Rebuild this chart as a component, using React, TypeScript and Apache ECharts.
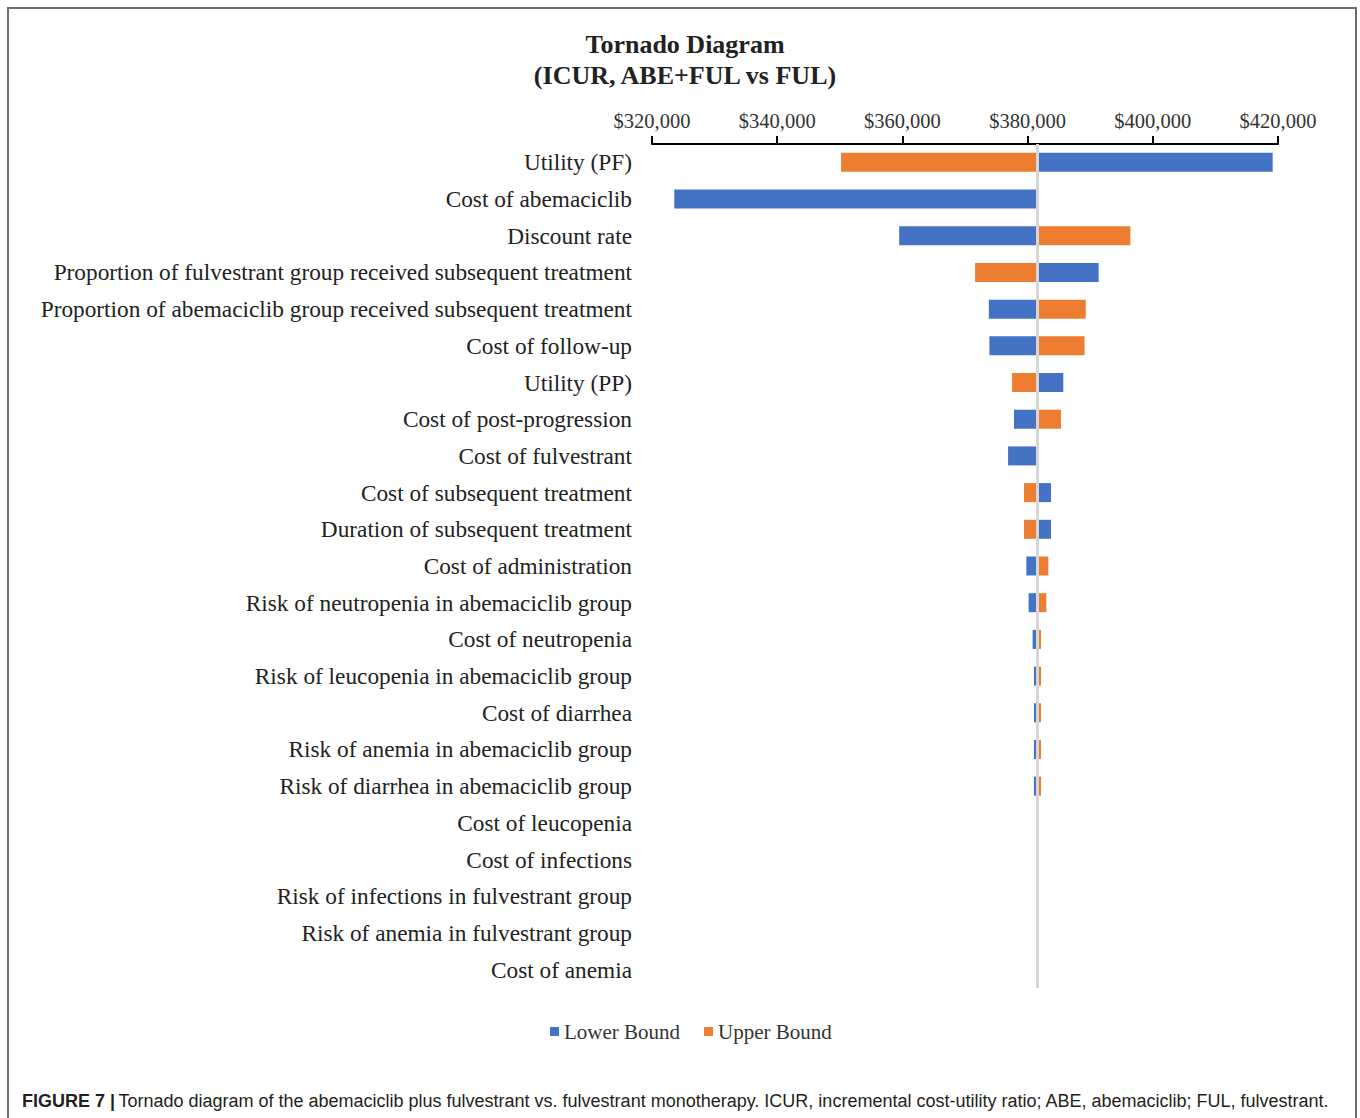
import React, { useEffect, useRef } from "react";
import * as echarts from "echarts";

const categories = [
  "Utility (PF)",
  "Cost of abemaciclib",
  "Discount rate",
  "Proportion of fulvestrant group received subsequent treatment",
  "Proportion of abemaciclib group received subsequent treatment",
  "Cost of follow-up",
  "Utility (PP)",
  "Cost of post-progression",
  "Cost of fulvestrant",
  "Cost of subsequent treatment",
  "Duration of subsequent treatment",
  "Cost of administration",
  "Risk of neutropenia in abemaciclib group",
  "Cost of neutropenia",
  "Risk of leucopenia in abemaciclib group",
  "Cost of diarrhea",
  "Risk of anemia in abemaciclib group",
  "Risk of diarrhea in abemaciclib group",
  "Cost of leucopenia",
  "Cost of infections",
  "Risk of infections in fulvestrant group",
  "Risk of anemia in fulvestrant group",
  "Cost of anemia",
];

const BASE_ICUR = 381600;

const lowerBound = [
  419150, 323560, 359490, 391350, 373810, 373900, 385700, 377830, 376880,
  383740, 383740, 379800, 380160, 380800, 381020, 381020, 381020, 381020,
  381600, 381600, 381600, 381600, 381600,
];

const upperBound = [
  350200, 381600, 396420, 371610, 389290, 389100, 377520, 385330, 381600,
  379430, 379430, 383310, 382990, 382140, 382140, 382140, 382140, 382140,
  381600, 381600, 381600, 381600, 381600,
];

const xTicks = { min: 320000, max: 420000, interval: 20000 };

const BLUE = "#4472C4";
const ORANGE = "#ED7D31";
const SERIF = "'Liberation Serif', 'Times New Roman', serif";
const SANS = "'Liberation Sans', Arial, sans-serif";

export default function App() {
  const ref = useRef<HTMLDivElement>(null);

  useEffect(() => {
    if (!ref.current) return;
    const chart = echarts.init(ref.current, null, { renderer: "svg" });

    const lowStart = lowerBound.map((v) => Math.min(v, BASE_ICUR));
    const lowLen = lowerBound.map((v) => Math.abs(v - BASE_ICUR));
    const upStart = upperBound.map((v) => Math.min(v, BASE_ICUR));
    const upLen = upperBound.map((v) => Math.abs(v - BASE_ICUR));

    chart.setOption({
      animation: false,
      backgroundColor: "#ffffff",
      grid: { left: 652, right: 1360 - 1278, top: 144, bottom: 1118 - 988 },
      xAxis: {
        type: "value",
        position: "top",
        min: xTicks.min,
        max: xTicks.max,
        interval: xTicks.interval,
        axisLine: { show: true, lineStyle: { color: "#000", width: 2 } },
        axisTick: { show: true, length: 8, lineStyle: { color: "#000", width: 2 } },
        splitLine: { show: false },
        axisLabel: {
          margin: 13,
          fontFamily: SERIF,
          fontSize: 20.5,
          color: "#333",
          formatter: (v: number) => "$" + v.toLocaleString("en-US"),
        },
      },
      yAxis: {
        type: "category",
        inverse: true,
        data: categories,
        axisLine: { show: false },
        axisTick: { show: false },
        axisLabel: {
          margin: 20,
          fontFamily: SERIF,
          fontSize: 23.3,
          color: "#222",
        },
      },
      legend: {
        data: ["Lower Bound", "Upper Bound"],
        left: 545,
        top: 1016,
        icon: "rect",
        itemWidth: 9,
        itemHeight: 9,
        itemGap: 24,
        textStyle: { fontFamily: SERIF, fontSize: 21, color: "#333" },
      },
      series: [
        {
          name: "lowBase",
          type: "bar",
          stack: "low",
          barWidth: 19,
          barGap: "-100%",
          data: lowStart,
          itemStyle: { color: "transparent" },
          silent: true,
          markLine: {
            silent: true,
            symbol: "none",
            label: { show: false },
            lineStyle: { color: "#d6d6d6", width: 3, type: "solid" },
            data: [{ xAxis: BASE_ICUR }],
            z: 10,
          },
        },
        {
          name: "Lower Bound",
          type: "bar",
          stack: "low",
          barWidth: 19,
          barGap: "-100%",
          data: lowLen,
          itemStyle: { color: BLUE },
        },
        {
          name: "upBase",
          type: "bar",
          stack: "up",
          barWidth: 19,
          barGap: "-100%",
          data: upStart,
          itemStyle: { color: "transparent" },
          silent: true,
        },
        {
          name: "Upper Bound",
          type: "bar",
          stack: "up",
          barWidth: 19,
          barGap: "-100%",
          data: upLen,
          itemStyle: { color: ORANGE },
        },
      ],
      graphic: [
        {
          type: "rect",
          shape: { x: 8, y: 8, width: 1348, height: 1140 },
          style: { fill: "none", stroke: "#6e6e6e", lineWidth: 2 },
          silent: true,
        },
        {
          type: "text",
          x: 685,
          y: 44,
          style: {
            text: "Tornado Diagram",
            fontFamily: SERIF,
            fontWeight: "bold",
            fontSize: 26,
            fill: "#222",
            align: "center",
            verticalAlign: "middle",
          },
        },
        {
          type: "text",
          x: 685,
          y: 75,
          style: {
            text: "(ICUR, ABE+FUL vs FUL)",
            fontFamily: SERIF,
            fontWeight: "bold",
            fontSize: 26,
            fill: "#222",
            align: "center",
            verticalAlign: "middle",
          },
        },
        {
          type: "text",
          x: 22,
          y: 1101,
          style: {
            text:
              "{b|FIGURE 7 |} {r|Tornado diagram of the abemaciclib plus fulvestrant vs. fulvestrant monotherapy. ICUR, incremental cost-utility ratio; ABE, abemaciclib; FUL, fulvestrant.}",
            verticalAlign: "middle",
            rich: {
              b: { fontFamily: SANS, fontWeight: "bold", fontSize: 18, fill: "#231f20" },
              r: { fontFamily: SANS, fontSize: 18, fill: "#231f20" },
            },
          },
        },
      ],
    });

    return () => chart.dispose();
  }, []);

  return (
    <div
      ref={ref}
      style={{ position: "absolute", left: 0, top: 0, width: 1360, height: 1118 }}
    />
  );
}
